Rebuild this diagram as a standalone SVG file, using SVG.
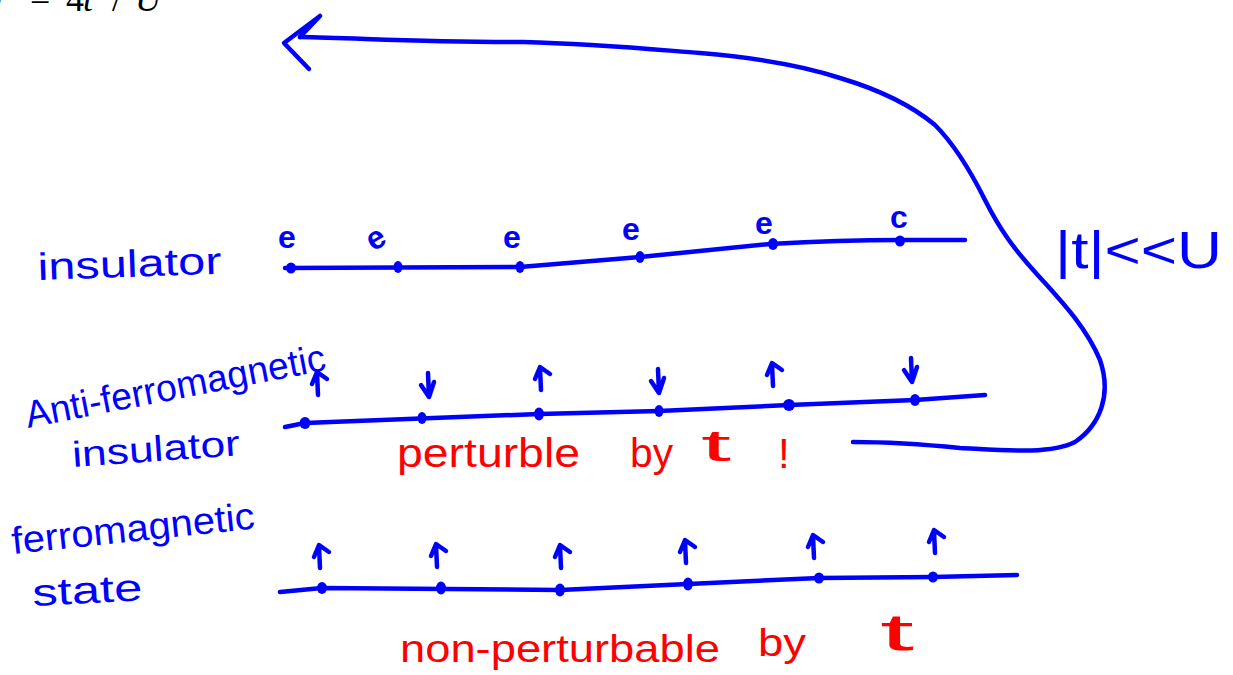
<svg xmlns="http://www.w3.org/2000/svg" width="1233" height="675" viewBox="0 0 1233 675">
<style>
.ln{fill:none;stroke:#0000ff;stroke-width:4.5;stroke-linecap:round;stroke-linejoin:round}
.dot{fill:#0000ff}
.bl{fill:#0000ff;font-family:"Liberation Sans",Arial,sans-serif}
.rd{fill:#ff0000;font-family:"Liberation Sans",Arial,sans-serif}
.e{fill:#0000ff;font-family:"Liberation Sans",Arial,sans-serif;font-size:32px;font-weight:bold}
.math{fill:#000000;font-family:"Liberation Serif","Times New Roman",serif;font-size:36px}
</style>
<defs>
<path id="up" class="ln" d="M0,0 L-1,-22 M-6,-11 L-1,-23 L9,-16"/>
<path id="dn" class="ln" d="M0,-24 L1,0 M-7,-12 L1,0 L6,-15"/>
</defs>
<rect width="1233" height="675" fill="#ffffff"/>

<g id="formula">
<text class="math" y="11"><tspan x="-12" font-style="italic">J</tspan><tspan x="30">=</tspan><tspan x="66">4</tspan><tspan x="83" font-style="italic">t</tspan><tspan x="96" dy="-16" font-size="22">2</tspan><tspan x="112" dy="16">/</tspan><tspan x="135" font-style="italic">U</tspan></text>
</g>

<g id="connectors">
<path class="ln" d="M300,37 C360,38 420,42 523,42 C600,44 660,50 700,53 C760,58 810,68 840,78 C880,90 910,104 935,125 C955,145 970,170 985,200 C1000,230 1015,250 1035,272 C1060,300 1085,325 1100,360 C1112,395 1100,425 1075,442 C1050,455 1000,450 960,448 C920,444 880,442 853,442"/>
<path class="ln" d="M320,16 L284,43 L309,69 M320,16 L300,37"/>
</g>

<g id="insulator">
<text class="bl" x="38" y="280" font-size="38" textLength="184" lengthAdjust="spacingAndGlyphs" transform="rotate(-2 38 280)">insulator</text>
<path class="ln" d="M285,268 L520,267 Q580,262 640,257 L770,244 Q840,240 900,240 L965,240"/>
<ellipse class="dot" cx="291" cy="268" rx="5" ry="5.5"/>
<ellipse class="dot" cx="398" cy="267" rx="4.5" ry="6"/>
<ellipse class="dot" cx="520" cy="267" rx="4.5" ry="6"/>
<ellipse class="dot" cx="640" cy="257" rx="4.5" ry="6"/>
<ellipse class="dot" cx="773" cy="244" rx="5" ry="6"/>
<ellipse class="dot" cx="900" cy="241" rx="5" ry="5.5"/>
<text class="e" x="278" y="248">e</text>
<text class="e" x="366" y="246" transform="rotate(-30 380 236)">e</text>
<text class="e" x="503" y="248">e</text>
<text class="e" x="622" y="240">e</text>
<text class="e" x="755" y="234">e</text>
<text class="e" x="890" y="228">c</text>
</g>

<g id="antiferro">
<text class="bl" x="28" y="428" font-size="38" textLength="305" lengthAdjust="spacingAndGlyphs" transform="rotate(-11 28 428)">Anti-ferromagnetic</text>
<text class="bl" x="73" y="467" font-size="36" textLength="168" lengthAdjust="spacingAndGlyphs" transform="rotate(-4 73 467)">insulator</text>
<path class="ln" d="M285,427 Q300,424 305,423 L539,414 L659,411 L789,405 L915,400 L985,395"/>
<ellipse class="dot" cx="305" cy="423" rx="5.5" ry="6"/>
<ellipse class="dot" cx="422" cy="418" rx="4.5" ry="6"/>
<ellipse class="dot" cx="539" cy="414" rx="5" ry="6.5"/>
<ellipse class="dot" cx="659" cy="411" rx="4.5" ry="6"/>
<ellipse class="dot" cx="789" cy="405" rx="6" ry="6"/>
<ellipse class="dot" cx="915" cy="400" rx="5" ry="6"/>
<use href="#up" x="318" y="395"/>
<use href="#dn" x="428" y="397"/>
<use href="#up" x="541" y="390"/>
<use href="#dn" x="658" y="393"/>
<use href="#up" x="773" y="386"/>
<use href="#dn" x="911" y="382"/>
<text class="rd" x="397" y="467" font-size="40" textLength="183" lengthAdjust="spacingAndGlyphs">perturble</text>
<text class="rd" x="630" y="467" font-size="40" textLength="43" lengthAdjust="spacingAndGlyphs">by</text>
<text class="rd" x="701" y="461" font-size="44" textLength="30" lengthAdjust="spacingAndGlyphs">t</text>
<text class="rd" x="778" y="468" font-size="42">!</text>
</g>

<g id="ferro">
<text class="bl" x="13" y="554" font-size="38" textLength="244" lengthAdjust="spacingAndGlyphs" transform="rotate(-6 13 554)">ferromagnetic</text>
<text class="bl" x="33" y="606" font-size="38" textLength="110" lengthAdjust="spacingAndGlyphs" transform="rotate(-3 33 606)">state</text>
<path class="ln" d="M280,592 L322,588 L560,590 L688,584 L819,578 L933,577 L1017,575"/>
<ellipse class="dot" cx="322" cy="588" rx="5" ry="6"/>
<ellipse class="dot" cx="441" cy="588" rx="5" ry="6.5"/>
<ellipse class="dot" cx="560" cy="590" rx="5" ry="6.5"/>
<ellipse class="dot" cx="688" cy="584" rx="5" ry="6.5"/>
<ellipse class="dot" cx="819" cy="578" rx="5" ry="5.5"/>
<ellipse class="dot" cx="933" cy="577" rx="5" ry="5.5"/>
<use href="#up" x="320" y="568"/>
<use href="#up" x="437" y="567"/>
<use href="#up" x="561" y="568"/>
<use href="#up" x="686" y="563"/>
<use href="#up" x="814" y="558"/>
<use href="#up" x="935" y="553"/>
<text class="rd" x="400" y="662" font-size="38" textLength="320" lengthAdjust="spacingAndGlyphs">non-perturbable</text>
<text class="rd" x="758" y="656" font-size="38" textLength="48" lengthAdjust="spacingAndGlyphs">by</text>
<text class="rd" x="880" y="650" font-size="52" textLength="34" lengthAdjust="spacingAndGlyphs">t</text>
</g>

<g id="condition">
<text class="bl" x="1055" y="268" font-size="52" textLength="167" lengthAdjust="spacingAndGlyphs">|t|&lt;&lt;U</text>
</g>
</svg>
